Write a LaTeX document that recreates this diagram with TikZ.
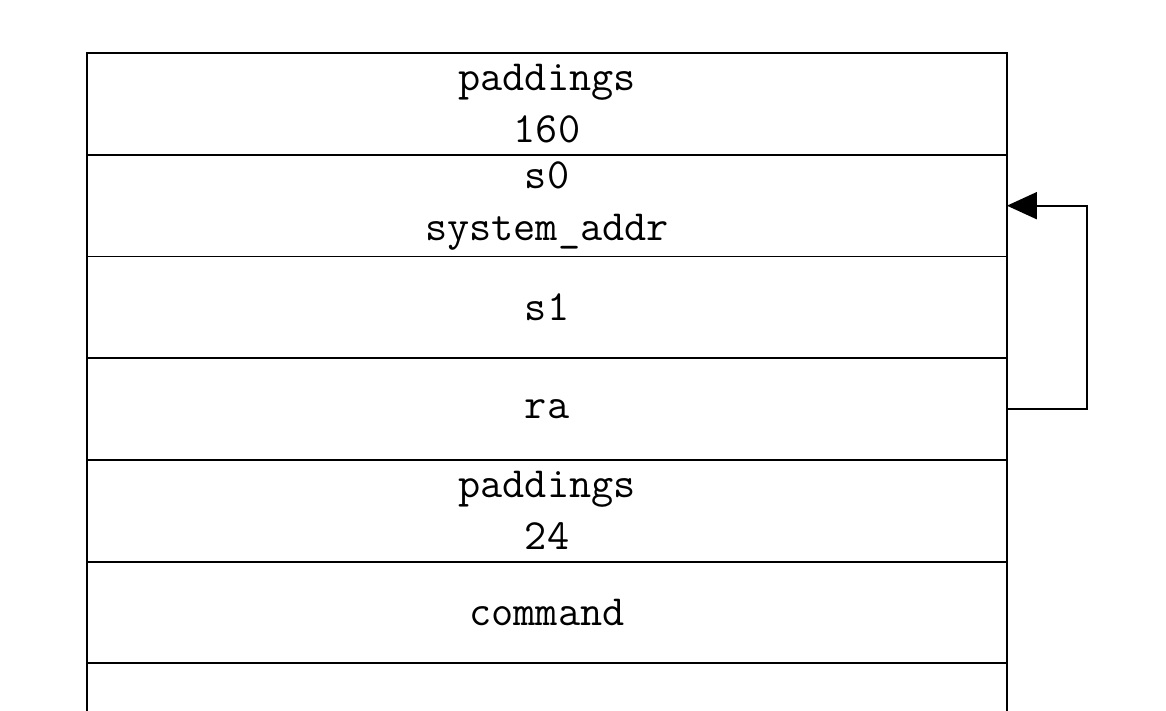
\documentclass[tikz,border=0pt]{standalone}
\usepackage{fontspec}
\usetikzlibrary{arrows.meta, positioning}

\begin{document}
\begin{tikzpicture}[
    x=0.02cm, y=-0.02cm,
    >={Triangle[length=0.6cm, width=0.54cm]},
    every node/.style={font=\ttfamily\fontsize{24.5}{29.5}\selectfont},
    slot/.style={draw, line width=1.1pt, minimum width=18.4cm, minimum height=2.034cm,
                 outer sep=0pt, inner sep=0pt, align=center},
]
\clip (0,0) rectangle (1166,710);
% stack frame, top to bottom
\node[slot] (pad1) at (547,104) {paddings\\160};
\node[slot, below=0pt of pad1] (s0) {s0\\system\_addr};
\node[slot, below=0pt of s0] (s1) {s1};
\node[slot, below=0pt of s1] (ra) {ra};
\node[slot, below=0pt of ra] (pad2) {paddings\\24};
\node[slot, below=0pt of pad2] (cmd) {command};
\node[slot, below=0pt of cmd] (rest) {};
% ra points back to s0
\draw[->, line width=1.1pt] (ra.east) -- ++(80,0) |- (s0.east);
\end{tikzpicture}
\end{document}
